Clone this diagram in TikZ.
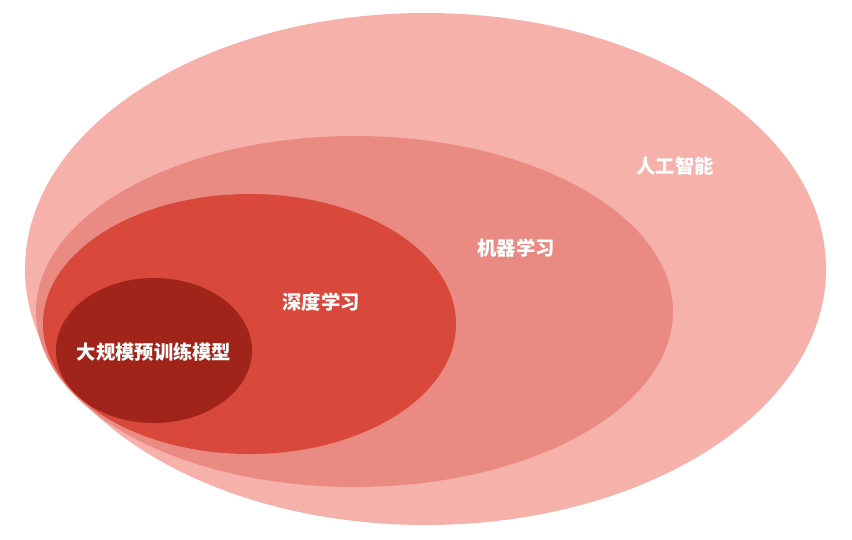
\documentclass[tikz,border=0pt]{standalone}
\usepackage{fontspec}
\newfontfamily\cjk{Noto Sans CJK SC}
\definecolor{cA}{HTML}{F6B1AB}
\definecolor{cB}{HTML}{E98B83}
\definecolor{cC}{HTML}{D8493B}
\definecolor{cD}{HTML}{A0241A}
\tikzset{
  lbl/.style={text=white, font=\cjk\bfseries\fontsize{19.3}{21}\selectfont, inner sep=0pt},
}
\begin{document}
\begin{tikzpicture}[x=1pt,y=-1pt]
\useasboundingbox (0,0) rectangle (852,539);
\fill[cA] (425.5,269) ellipse [x radius=400.5, y radius=256];
\fill[cB] (354.5,311.5) ellipse [x radius=318.5, y radius=175.5];
\fill[cC] (249.5,324) ellipse [x radius=206.5, y radius=130];
\fill[cD] (154,350.5) ellipse [x radius=98, y radius=72.5];
\node[lbl] (ai) at (675,166) {人工智能};
\node[lbl] (ml) at (516,248) {机器学习};
\node[lbl] (dl) at (321,302) {深度学习};
\node[lbl] (lm) at (154,352) {大规模预训练模型};
\end{tikzpicture}
\end{document}
